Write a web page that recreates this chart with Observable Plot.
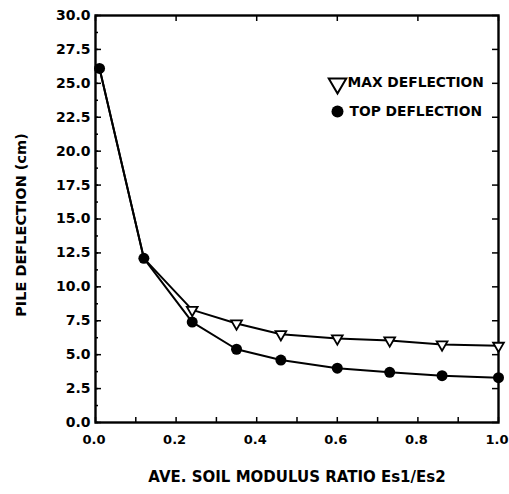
<!DOCTYPE html>
<html>
<head>
<meta charset="utf-8">
<script src="https://cdn.jsdelivr.net/npm/d3@7"></script>
<script src="https://cdn.jsdelivr.net/npm/@observablehq/plot@0.6"></script>
<style>
  html, body { margin: 0; padding: 0; background: #fff; }
  #chart svg { display: block; }
</style>
</head>
<body>
<div id="chart"></div>
<script>
// Data
const ratio = [0.01, 0.12, 0.24, 0.35, 0.46, 0.60, 0.73, 0.86, 1.0];
const topDeflection = [26.1, 12.1, 7.4, 5.4, 4.6, 4.0, 3.7, 3.45, 3.3];
const maxDeflection = [26.1, 12.1, 8.3, 7.3, 6.5, 6.2, 6.05, 5.75, 5.65];
const yTickLabels = [0, 2.5, 5, 7.5, 10, 12.5, 15, 17.5, 20, 22.5, 25, 27.5, 30];
const xTickLabels = [0, 0.2, 0.4, 0.6, 0.8, 1.0];
const legendLabels = ["MAX DEFLECTION", "TOP DEFLECTION"];
const xTitle = "AVE. SOIL MODULUS RATIO Es1/Es2";
const yTitle = "PILE DEFLECTION (cm)";

const font = "'DejaVu Sans', sans-serif";
const idx = d3.range(ratio.length);
const triIdx = idx.filter(i => maxDeflection[i] !== topDeflection[i]);

const chart = Plot.plot({
  width: 509,
  height: 494,
  marginLeft: 95,
  marginRight: 11,
  marginTop: 15,
  marginBottom: 72,
  style: {fontFamily: font, fontWeight: "bold", fontSize: "13px", color: "black", background: "white"},
  x: {domain: [0, 1]},
  y: {domain: [0, 30]},
  marks: [
    // tick labels
    Plot.axisY({ticks: yTickLabels, tickSize: 0, tickPadding: 5, tickFormat: d => d.toFixed(1), label: null, fontSize: 14, fontWeight: "bold"}),
    Plot.axisX({ticks: xTickLabels, tickSize: 0, tickPadding: 12, tickFormat: d => d.toFixed(1), label: null, fontSize: 13, fontWeight: "bold", dx: -1.5}),
    // inward tick marks
    Plot.axisY({anchor: "left", ticks: d3.range(0, 30.01, 1.25), tickSize: -3, text: null, label: null, strokeWidth: 1.5}),
    Plot.axisY({anchor: "left", ticks: yTickLabels, tickSize: -6, text: null, label: null, strokeWidth: 1.5}),
    Plot.axisY({anchor: "right", ticks: yTickLabels, tickSize: -7, text: null, label: null, strokeWidth: 1.5}),
    Plot.axisX({anchor: "bottom", ticks: d3.range(0, 1.001, 0.1), tickSize: -5, text: null, label: null, strokeWidth: 1.5}),
    Plot.axisX({anchor: "top", ticks: xTickLabels, tickSize: -5, text: null, label: null, strokeWidth: 1.5}),
    Plot.frame({stroke: "black", strokeWidth: 2.4}),
    // titles
    Plot.text([yTitle], {frameAnchor: "left", text: d => d, textAnchor: "middle", lineAnchor: "middle", rotate: -90, dx: -74, dy: 6, fontSize: 14.5, fontWeight: "bold", fill: "black"}),
    Plot.text([xTitle], {frameAnchor: "bottom", text: d => d, textAnchor: "middle", lineAnchor: "middle", dy: 55, fontSize: 15, fontWeight: "bold", fill: "black"}),
    // data lines
    Plot.line(idx, {x: i => ratio[i], y: i => maxDeflection[i], stroke: "black", strokeWidth: 2}),
    Plot.line(idx, {x: i => ratio[i], y: i => topDeflection[i], stroke: "black", strokeWidth: 2}),
    Plot.dot(triIdx, {x: i => ratio[i], y: i => maxDeflection[i], symbol: "triangle", rotate: 180, r: 4, stroke: "black", strokeWidth: 1.8, fill: "white"}),
    Plot.dot(idx, {x: i => ratio[i], y: i => topDeflection[i], r: 5.5, fill: "black", stroke: "none"}),
    // legend
    Plot.dot([legendLabels[0]], {frameAnchor: "top-left", dx: 242, dy: 68, symbol: "triangle", rotate: 180, r: 6.5, stroke: "black", strokeWidth: 2, fill: "white"}),
    Plot.text([legendLabels[0]], {frameAnchor: "top-left", dx: 252, dy: 67, text: d => d, textAnchor: "start", lineAnchor: "middle", fontSize: 13.8, fontWeight: "bold", fill: "black"}),
    Plot.dot([legendLabels[1]], {frameAnchor: "top-left", dx: 242, dy: 96, r: 6, fill: "black"}),
    Plot.text([legendLabels[1]], {frameAnchor: "top-left", dx: 254, dy: 96, text: d => d, textAnchor: "start", lineAnchor: "middle", fontSize: 13.8, fontWeight: "bold", fill: "black"})
  ]
});
document.getElementById("chart").appendChild(chart);
</script>
</body>
</html>
